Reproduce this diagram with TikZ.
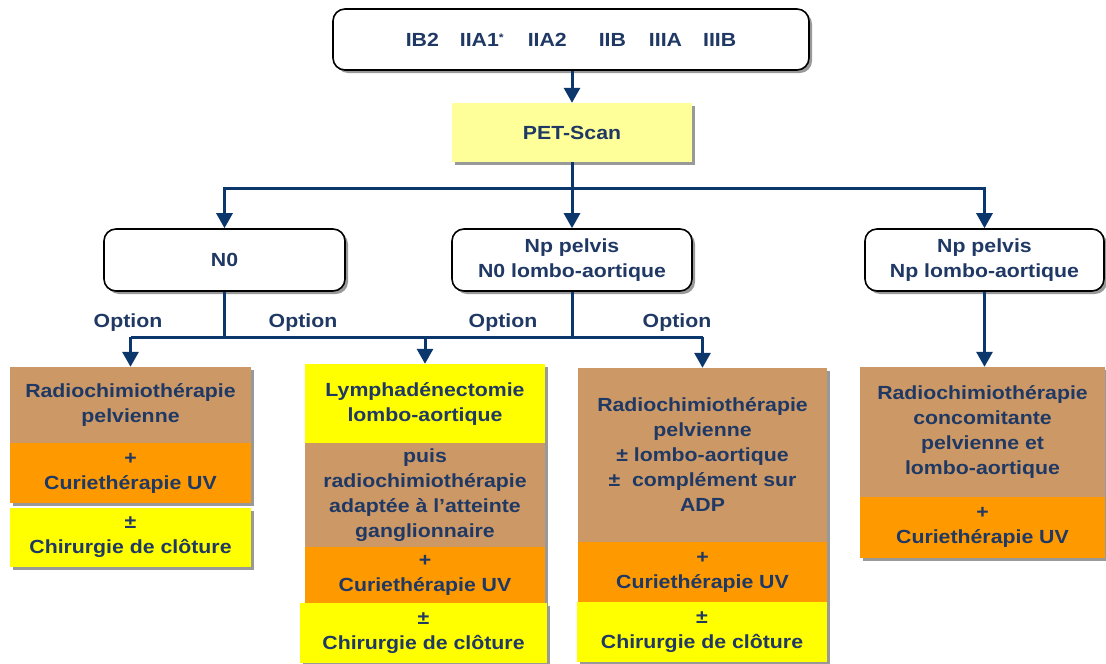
\documentclass[tikz,border=0pt]{standalone}
\usepackage{fontspec}
\setmainfont{Liberation Sans}[FakeStretch=1.12]
\usetikzlibrary{shadows,arrows.meta}
\definecolor{navy}{RGB}{31,56,100}
\definecolor{linecol}{RGB}{12,55,108}
\definecolor{tan}{RGB}{204,153,102}
\definecolor{orng}{RGB}{255,153,0}
\definecolor{yell}{RGB}{255,255,0}
\definecolor{paleyell}{RGB}{255,255,153}
\begin{document}
\begin{tikzpicture}[x=1pt,y=-1pt,
  every node/.style={font=\fontsize{19}{25}\selectfont\bfseries, text=navy, align=center, inner sep=0pt},
  shad/.style={drop shadow={shadow xshift=3pt,shadow yshift=-3pt,fill=black!40,opacity=1}},
  rbox/.style={draw=black, line width=1.6pt, rounded corners=12pt, fill=white, shad},
  fillbox/.style={fill=#1, shad},
  conn/.style={draw=linecol, line width=3pt},
  arr/.style={conn, -{Triangle[width=16pt,length=15pt]}},
  optlabel/.style={text=navy}]
\useasboundingbox (0,0) rectangle (1106,664);

% stage header and PET-Scan
\node[rbox, minimum width=476pt, minimum height=61pt] (stages) at (571,39.5)
  {IB2\hspace{21pt}IIA1\raisebox{5pt}{\fontsize{11}{11}\selectfont *}\hspace{24pt}IIA2\hspace{32pt}IIB\hspace{23pt}IIIA\hspace{21pt}IIIB};
\node[fillbox=paleyell, minimum width=240pt, minimum height=59pt] (pet) at (572,132.5) {PET-Scan};

% nodal status
\node[rbox, minimum width=241pt, minimum height=62pt] (n0) at (224.5,260) {N0};
\node[rbox, minimum width=240pt, minimum height=62pt] (mid) at (572,260) {Np pelvis\\N0 lombo-aortique};
\node[rbox, minimum width=239pt, minimum height=62pt] (right) at (984.5,260) {Np pelvis\\Np lombo-aortique};

% column 1
\node[fillbox=tan, minimum width=241pt, minimum height=76pt] (lc1) at (130.5,405) {Radiochimiothérapie\\pelvienne};
\node[fillbox=orng, minimum width=241pt, minimum height=60pt] (lc2) at (130.5,473) {+\\Curiethérapie UV};
\node[fillbox=yell, minimum width=241pt, minimum height=59pt] (lc3) at (130.5,537.5) {±\\Chirurgie de clôture};

% column 2
\node[fillbox=yell, minimum width=240pt, minimum height=79pt] (mc1) at (425,403.5) {Lymphadénectomie\\lombo-aortique};
\node[fillbox=tan, minimum width=240pt, minimum height=104pt] (mc2) at (425,495) {puis\\radiochimiothérapie\\adaptée à l’atteinte\\ganglionnaire};
\node[fillbox=orng, minimum width=240pt, minimum height=56pt] (mc3) at (425,575) {+\\Curiethérapie UV};
\node[fillbox=yell, minimum width=247pt, minimum height=60pt] (mc4) at (423.5,633) {±\\Chirurgie de clôture};

% column 3
\node[fillbox=tan, minimum width=249pt, minimum height=174pt] (tc1) at (702.5,455) {Radiochimiothérapie\\pelvienne\\± lombo-aortique\\±\ \ complément sur\\ADP};
\node[fillbox=orng, minimum width=249pt, minimum height=60pt] (tc2) at (702.5,572) {+\\Curiethérapie UV};
\node[fillbox=yell, minimum width=250pt, minimum height=60pt] (tc3) at (702,632) {±\\Chirurgie de clôture};

% column 4
\node[fillbox=tan, minimum width=245pt, minimum height=130pt] (rc1) at (982.5,432) {Radiochimiothérapie\\concomitante\\pelvienne et\\lombo-aortique};
\node[fillbox=orng, minimum width=245pt, minimum height=61pt] (rc2) at (982.5,527.5) {+\\Curiethérapie UV};

% connectors
\coordinate (j1) at (572,188);
\coordinate (j2) at (224.5,337);
\coordinate (j3) at (572,337);
\draw[arr] (stages.south -| pet.north) -- (pet.north);
\draw[arr] (pet.south) -- (mid.north);
\draw[arr] (j1) -| (n0.north);
\draw[arr] (j1) -| (right.north);
\draw[conn] (n0.south) -- (j2);
\draw[conn] (mid.south) -- (j3);
\draw[conn] (lc1.north |- j2) -- (tc1.north |- j3);
\draw[arr] (lc1.north |- j2) -- (lc1.north);
\draw[arr] (mc1.north |- j2) -- (mc1.north);
\draw[arr] (tc1.north |- j3) -- (tc1.north);
\draw[arr] (right.south) -- (right.south |- rc1.north);

% option labels
\node[optlabel] (o1) at (128,323) {Option};
\node[optlabel] (o2) at (303,323) {Option};
\node[optlabel] (o3) at (503,323) {Option};
\node[optlabel] (o4) at (677,323) {Option};
\end{tikzpicture}
\end{document}
